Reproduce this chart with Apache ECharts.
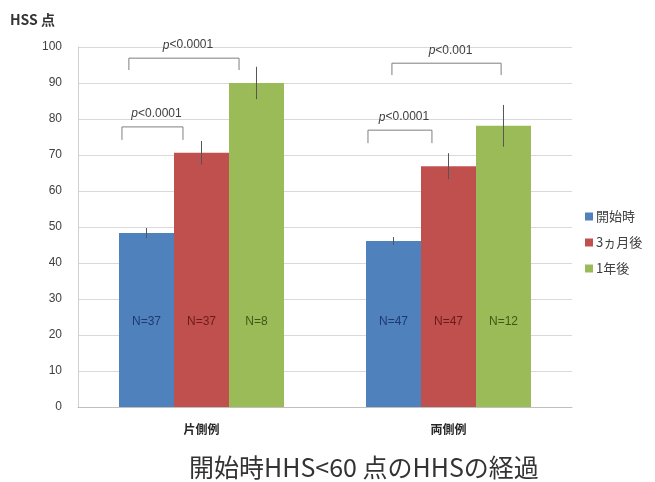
<!DOCTYPE html>
<html>
<head>
<meta charset="utf-8">
<script src="https://cdn.jsdelivr.net/npm/echarts@6/dist/echarts.min.js"></script>
<style>
  html, body { margin: 0; padding: 0; background: #fff; }
  #chart { width: 655px; height: 482px; }
</style>
</head>
<body>
<div id="chart"></div>
<script>
// Groups on the x axis
const categories = ['片側例', '両側例'];
// Series names (time points)
const seriesNames = ['開始時', '3ヵ月後', '1年後'];
// Mean HSS score per series, per group
const baselineValues = [48.3, 46.1];
const threeMonthValues = [70.6, 66.9];
const oneYearValues = [90.0, 78.1];
// Error bar half-widths per series, per group
const baselineErr = [1.4, 1.1];
const threeMonthErr = [3.3, 3.6];
const oneYearErr = [4.5, 5.8];
// Sample sizes shown inside each bar
const baselineN = ['N=37', 'N=47'];
const threeMonthN = ['N=37', 'N=47'];
const oneYearN = ['N=8', 'N=12'];
// Significance brackets: group index, left/right offset (fraction of band), top value, leg bottom value, label
const bracketGroup = [0, 0, 1, 1];
const bracketLeft = [-0.322, -0.294, -0.326, -0.229];
const bracketRight = [-0.075, 0.152, -0.067, 0.213];
const bracketTop = [77.8, 96.9, 76.9, 95.5];
const bracketLeg = [74.2, 93.6, 73.3, 92.2];
const bracketLabel = ['<0.0001', '<0.0001', '<0.0001', '<0.001'];
// Y axis ticks
const yTicks = [0, 10, 20, 30, 40, 50, 60, 70, 80, 90, 100];

const colors = ['#4f81bd', '#c0504d', '#9bbb59'];
const labelColors = ['#1f3a6e', '#6e1a18', '#3d5a14'];
const values = [baselineValues, threeMonthValues, oneYearValues];
const errs = [baselineErr, threeMonthErr, oneYearErr];
const nLabels = [baselineN, threeMonthN, oneYearN];
const gapRatio = 0.332;

const chart = echarts.init(document.getElementById('chart'));

const barSeries = seriesNames.map((name, s) => ({
  name: name,
  type: 'bar',
  barGap: '0%',
  barCategoryGap: (gapRatio * 100) + '%',
  itemStyle: { color: colors[s] },
  label: {
    show: true,
    position: 'insideBottom',
    distance: 79,
    color: labelColors[s],
    fontSize: 12,
    fontFamily: 'Liberation Sans, Arial, sans-serif',
    formatter: p => nLabels[s][p.dataIndex]
  },
  data: values[s]
}));

const errData = [];
for (let s = 0; s < 3; s++) {
  for (let g = 0; g < categories.length; g++) {
    errData.push([g, values[s][g], errs[s][g], s]);
  }
}

const errSeries = {
  type: 'custom',
  silent: true,
  z: 5,
  renderItem: function (params, api) {
    const g = api.value(0), v = api.value(1), e = api.value(2), s = api.value(3);
    const band = api.size([1, 0])[0];
    const bw = band * (1 - gapRatio) / 3;
    const c = api.coord([g, v]);
    const x = c[0] + (s - 1) * bw;
    const hi = api.coord([g, v + e])[1];
    const lo = api.coord([g, v - e])[1];
    return {
      type: 'line',
      shape: { x1: x, y1: hi, x2: x, y2: lo },
      style: { stroke: '#555', lineWidth: 1 }
    };
  },
  data: errData
};

const bracketData = bracketGroup.map((g, i) => [g, bracketLeft[i], bracketRight[i], bracketTop[i], bracketLeg[i], i]);

const bracketSeries = {
  type: 'custom',
  silent: true,
  z: 6,
  renderItem: function (params, api) {
    const g = api.value(0);
    const l = api.value(1), r = api.value(2);
    const top = api.value(3), leg = api.value(4), idx = api.value(5);
    const band = api.size([1, 0])[0];
    const c = api.coord([g, top]);
    const x1 = c[0] + l * band, x2 = c[0] + r * band;
    const yTop = c[1];
    const yLeg = api.coord([g, leg])[1];
    const st = { stroke: '#7f7f7f', lineWidth: 1, fill: null };
    return {
      type: 'group',
      children: [
        { type: 'polyline', shape: { points: [[x1, yLeg], [x1, yTop], [x2, yTop], [x2, yLeg]] }, style: st },
        {
          type: 'text',
          x: (x1 + x2) / 2 + 4,
          y: yTop - 13,
          style: {
            text: '{i|p}' + bracketLabel[idx],
            align: 'center',
            verticalAlign: 'middle',
            fill: '#404040',
            fontSize: 12,
            fontFamily: 'Liberation Sans, Arial, sans-serif',
            rich: { i: { fontStyle: 'italic', fontSize: 12, fill: '#404040', fontFamily: 'Liberation Sans, Arial, sans-serif' } }
          }
        }
      ]
    };
  },
  data: bracketData
};

chart.setOption({
  animation: false,
  color: colors,
  textStyle: { fontFamily: 'Liberation Sans, "Noto Sans CJK JP", sans-serif' },
  title: {
    text: '開始時HHS<60 点のHHSの経過',
    left: 184,
    top: 450,
    textStyle: { fontSize: 25, fontWeight: 'normal', color: '#333', fontFamily: '"Noto Sans CJK JP", sans-serif' }
  },
  legend: {
    data: seriesNames,
    orient: 'vertical',
    left: 580,
    top: 205,
    itemWidth: 8,
    itemHeight: 8,
    itemGap: 13,
    icon: 'rect',
    textStyle: { fontSize: 13, color: '#404040', fontFamily: '"Noto Sans CJK JP", sans-serif', padding: [0, 0, 0, -2] }
  },
  grid: { left: 78, right: 83, top: 47, bottom: 75, containLabel: false },
  xAxis: {
    type: 'category',
    data: categories,
    axisLine: { lineStyle: { color: '#bfbfbf' } },
    axisTick: { show: false },
    axisLabel: { color: '#262626', fontSize: 12, fontWeight: 'bold', margin: 16, fontFamily: '"Noto Sans CJK JP", sans-serif' }
  },
  yAxis: {
    type: 'value',
    min: 0,
    max: 100,
    interval: 10,
    name: 'HSS 点',
    nameLocation: 'end',
    nameGap: 20,
    nameTextStyle: { fontSize: 14, fontWeight: 'bold', color: '#333', align: 'left', padding: [0, 0, 0, -68], fontFamily: '"Noto Sans CJK JP", sans-serif' },
    axisLine: { show: true, lineStyle: { color: '#d0d0d0' } },
    axisTick: { show: false },
    axisLabel: {
      color: '#404040',
      fontSize: 12,
      margin: 16,
      fontFamily: 'Liberation Sans, Arial, sans-serif',
      formatter: v => yTicks.indexOf(v) >= 0 ? String(v) : ''
    },
    splitLine: { lineStyle: { color: '#d9d9d9' } }
  },
  series: [...barSeries, errSeries, bracketSeries]
});
</script>
</body>
</html>
